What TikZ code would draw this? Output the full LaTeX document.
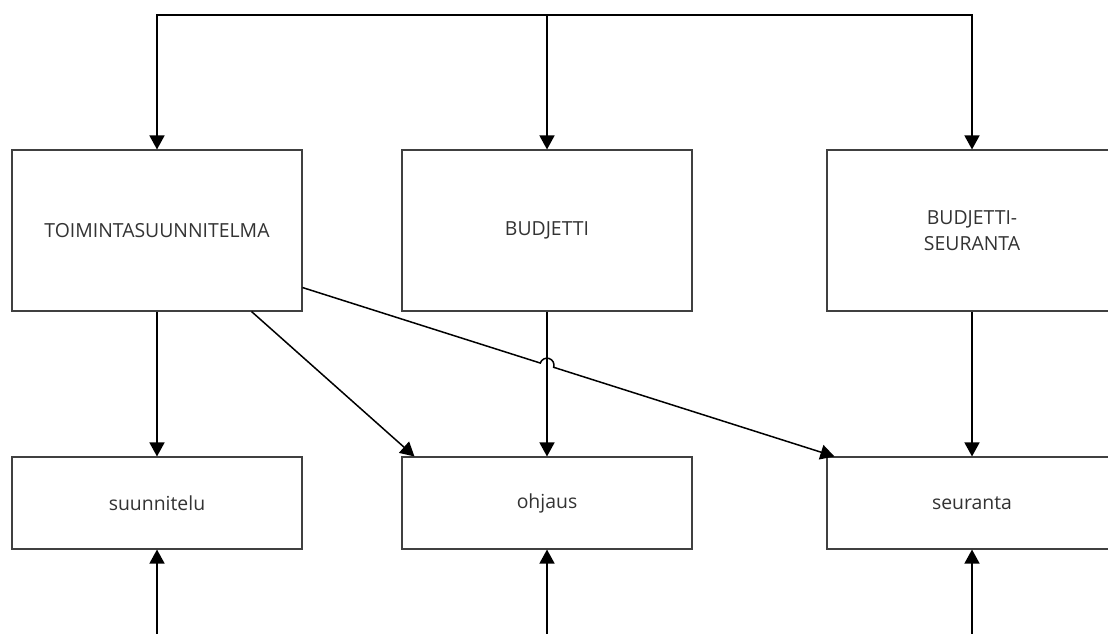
\documentclass[tikz,border=0pt]{standalone}
\usepackage{fontspec}
\setmainfont{Open Sans}
\usetikzlibrary{arrows.meta,calc,intersections}

\tikzset{
  box/.style={draw=black!75, line width=1.1pt, fill=white, align=center,
    text=black!80, font=\fontsize{19.4}{26.5}\selectfont, inner sep=0pt},
  bigbox/.style={box, minimum width=290pt, minimum height=161pt},
  smallbox/.style={box, minimum width=290pt, minimum height=92pt},
  conn/.style={draw=black, line width=1.5pt,
    -{Triangle[width=15pt,length=14pt]}}
}

\begin{document}
\begin{tikzpicture}[x=1pt,y=-1pt]
  \useasboundingbox (0,0) rectangle (1108,634);

  % upper row
  \node[bigbox] (toim) at (157,230.5) {TOIMINTASUUNNITELMA};
  \node[bigbox] (bud)  at (547,230.5) {BUDJETTI};
  \node[bigbox] (bs)   at (972,230.5) {BUDJETTI-\\SEURANTA};

  % lower row
  \node[smallbox] (suun) at (157,503) {suunnitelu};
  \node[smallbox] (ohj)  at (547,503) {ohjaus};
  \node[smallbox] (seur) at (972,503) {seuranta};

  % distribution bus along the top
  \coordinate (bus) at (547,15);
  \draw[conn] (bus) -| (toim.north);
  \draw[conn] (bus) -- (bud.north);
  \draw[conn] (bus) -| (bs.north);

  % straight downward links
  \draw[conn] (toim.south) -- (suun.north);
  \draw[conn] (bs.south) -- (seur.north);

  % diagonal to ohjaus
  \coordinate (d1s) at ($(toim.south east)+(-51,0)$);
  \coordinate (d1e) at ($(ohj.north west)+(13,0)$);
  \draw[conn] (d1s) -- (d1e);

  % diagonal to seuranta, hopping over the BUDJETTI link
  \coordinate (d2s) at ($(toim.south east)+(0,-24)$);
  \coordinate (d2e) at ($(seur.north west)+(8,0)$);
  \path[name path=diag] (d2s) -- (d2e);
  \path[name path=vert] (bud.south) -- (ohj.north);
  \path[name intersections={of=diag and vert, by=J}];
  \coordinate (J1) at ($(J)!7pt!(d2s)$);
  \draw[conn] let \p1=($(d2e)-(d2s)$), \n1={atan2(\y1,\x1)} in
    (d2s) -- (J1) arc[start angle=\n1+180, end angle=\n1, radius=7pt] -- (d2e);

  \draw[conn] (bud.south) -- (ohj.north);

  % incoming links from below
  \coordinate (in1) at (157,634);
  \coordinate (in2) at (547,634);
  \coordinate (in3) at (972,634);
  \draw[conn] (in1) -- (suun.south);
  \draw[conn] (in2) -- (ohj.south);
  \draw[conn] (in3) -- (seur.south);
\end{tikzpicture}
\end{document}
